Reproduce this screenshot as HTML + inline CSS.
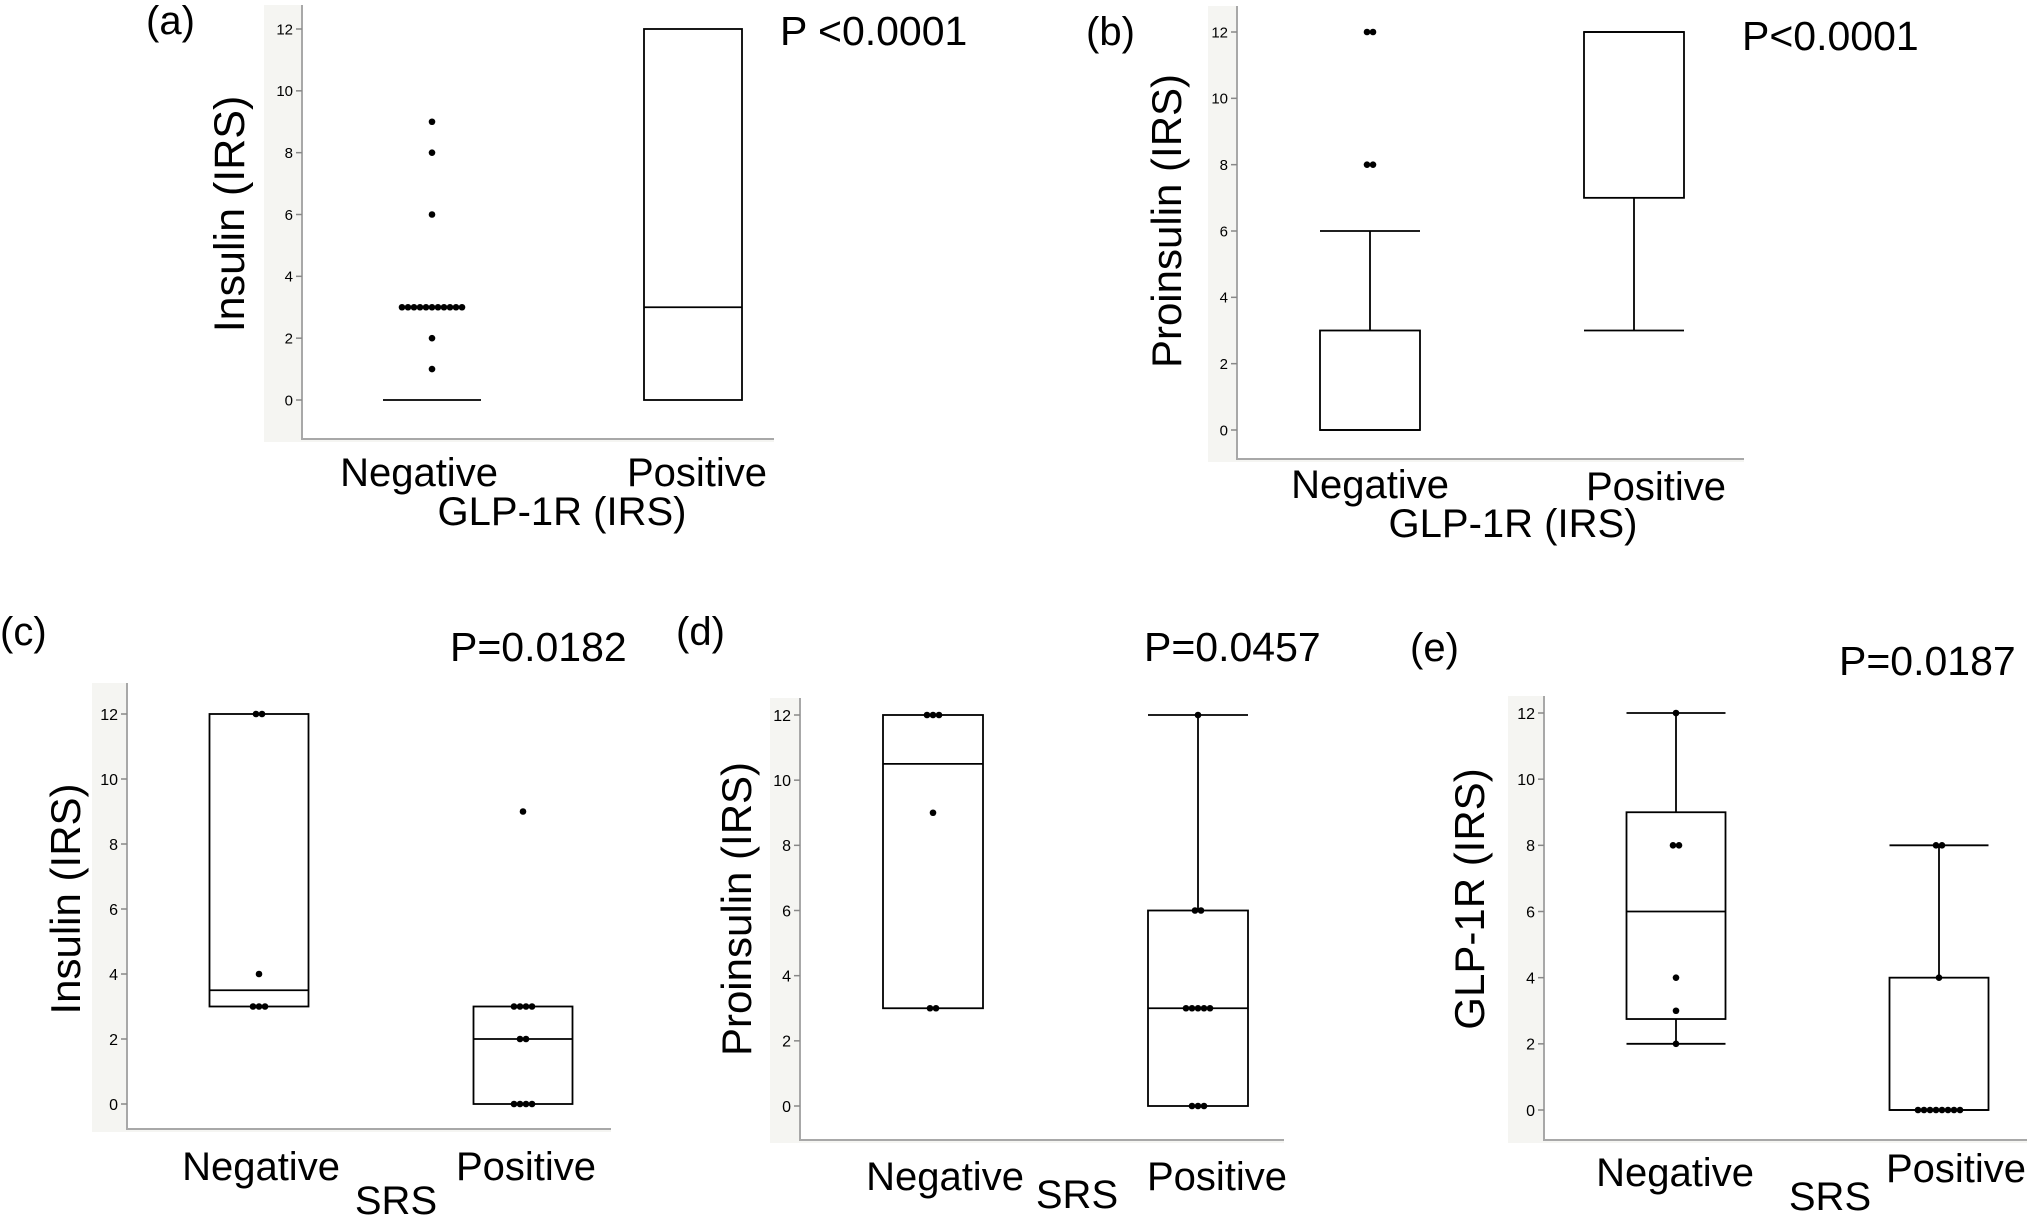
<!DOCTYPE html>
<html><head><meta charset="utf-8"><title>IRS box plots</title>
<style>html,body{margin:0;padding:0;background:#fff}svg{display:block}text{font-family:"Liberation Sans","Noto Sans CJK JP",sans-serif;fill:#000}</style>
</head><body>
<svg id="fig" width="2031" height="1217" viewBox="0 0 2031 1217" xmlns="http://www.w3.org/2000/svg">
<rect width="2031" height="1217" fill="#fff"/>
<g id="layer"></g>
<!-- static text -->
<text x="146" y="34" font-size="40">(a)</text>
<text x="780" y="45" font-size="41">P &lt;0.0001</text>
<text transform="translate(244,214) rotate(-90)" text-anchor="middle" font-size="43">Insulin (IRS)</text>
<text x="419" y="486" text-anchor="middle" font-size="40">Negative</text>
<text x="697" y="486" text-anchor="middle" font-size="40">Positive</text>
<text x="562" y="525" text-anchor="middle" font-size="40">GLP-1R (IRS)</text>

<text x="1086" y="45" font-size="40">(b)</text>
<text x="1742" y="50" font-size="41">P&lt;0.0001</text>
<text transform="translate(1181,221) rotate(-90)" text-anchor="middle" font-size="42">Proinsulin (IRS)</text>
<text x="1370" y="498" text-anchor="middle" font-size="40">Negative</text>
<text x="1656" y="500" text-anchor="middle" font-size="40">Positive</text>
<text x="1513" y="537" text-anchor="middle" font-size="40">GLP-1R (IRS)</text>

<text x="0" y="645" font-size="40">(c)</text>
<text x="450" y="661" font-size="41">P=0.0182</text>
<text transform="translate(80,899) rotate(-90)" text-anchor="middle" font-size="42">Insulin (IRS)</text>
<text x="261" y="1180" text-anchor="middle" font-size="40">Negative</text>
<text x="526" y="1180" text-anchor="middle" font-size="40">Positive</text>
<text x="396" y="1214" text-anchor="middle" font-size="40">SRS</text>

<text x="676" y="645" font-size="40">(d)</text>
<text x="1144" y="661" font-size="41">P=0.0457</text>
<text transform="translate(751,909) rotate(-90)" text-anchor="middle" font-size="42">Proinsulin (IRS)</text>
<text x="945" y="1190" text-anchor="middle" font-size="40">Negative</text>
<text x="1217" y="1190" text-anchor="middle" font-size="40">Positive</text>
<text x="1077" y="1208" text-anchor="middle" font-size="40">SRS</text>

<text x="1410" y="661" font-size="40">(e)</text>
<text x="1839" y="675" font-size="41">P=0.0187</text>
<text transform="translate(1484,899) rotate(-90)" text-anchor="middle" font-size="42">GLP-1R (IRS)</text>
<text x="1675" y="1186" text-anchor="middle" font-size="40">Negative</text>
<text x="1956" y="1182" text-anchor="middle" font-size="40">Positive</text>
<text x="1830" y="1210" text-anchor="middle" font-size="40">SRS</text>
</svg>
<script>
// ---- data ----
const yTicks = [0, 2, 4, 6, 8, 10, 12];
const tickLabels = ["0", "2", "4", "6", "8", "10", "12"];
// box stats: [q1, median, q3, whiskerLow, whiskerHigh] (null = no whisker)
const aNegBox = [0, 0, 0, null, null];
const aPosBox = [0, 3, 12, null, null];
const aNegDots = [9, 8, 6, 3, 3, 3, 3, 3, 3, 3, 3, 3, 3, 3, 2, 1];
const aPosDots = [];
const bNegBox = [0, 0, 3, null, 6];
const bPosBox = [7, 12, 12, 3, null];
const bNegDots = [12, 12, 8, 8];
const bPosDots = [];
const cNegBox = [3, 3.5, 12, null, null];
const cPosBox = [0, 2, 3, null, null];
const cNegDots = [12, 12, 4, 3, 3, 3];
const cPosDots = [9, 3, 3, 3, 3, 2, 2, 0, 0, 0, 0];
const dNegBox = [3, 10.5, 12, null, null];
const dPosBox = [0, 3, 6, null, 12];
const dNegDots = [12, 12, 12, 9, 3, 3];
const dPosDots = [12, 6, 6, 3, 3, 3, 3, 3, 0, 0, 0];
const eNegBox = [2.75, 6, 9, 2, 12];
const ePosBox = [0, 0, 4, null, 8];
const eNegDots = [12, 8, 8, 4, 3, 2];
const ePosDots = [8, 8, 4, 0, 0, 0, 0, 0, 0, 0, 0];

// ---- layout ----
const panels = [
  {id:"a", bgL:264, ax:302, right:774, bottom:439, top:5, y12:29, y0:400, negX:432, posX:693, bw:98, fs:15, nb:aNegBox, pb:aPosBox, nd:aNegDots, pd:aPosDots},
  {id:"b", bgL:1208, ax:1237, right:1744, bottom:459, top:6, y12:32, y0:430, negX:1370, posX:1634, bw:100, fs:15, nb:bNegBox, pb:bPosBox, nd:bNegDots, pd:bPosDots},
  {id:"c", bgL:92, ax:127, right:611, bottom:1129, top:683, y12:714, y0:1104, negX:259, posX:523, bw:99, fs:16, nb:cNegBox, pb:cPosBox, nd:cNegDots, pd:cPosDots},
  {id:"d", bgL:770, ax:800, right:1284, bottom:1140, top:698, y12:715, y0:1106, negX:933, posX:1198, bw:100, fs:16, nb:dNegBox, pb:dPosBox, nd:dNegDots, pd:dPosDots},
  {id:"e", bgL:1508, ax:1544, right:2027, bottom:1140, top:696, y12:713, y0:1110, negX:1676, posX:1939, bw:99, fs:16, nb:eNegBox, pb:ePosBox, nd:eNegDots, pd:ePosDots}
];
const NS = "http://www.w3.org/2000/svg";
const layer = document.getElementById("layer");
function mk(tag, attrs, parent) {
  const el = document.createElementNS(NS, tag);
  for (const k in attrs) el.setAttribute(k, attrs[k]);
  (parent || layer).appendChild(el);
  return el;
}
panels.forEach(p => {
  const g = mk("g", {});
  
  
  const y = v => p.y0 + (p.y12 - p.y0) * v / 12;
  const bg = mk("rect", {x:p.bgL, y:p.top, width:p.right - p.bgL, height:p.bottom - p.top + 3, fill:"#f5f5f2"}, g);
  
  
  const pa = mk("rect", {x:p.ax, y:p.top, width:p.right - p.ax, height:p.bottom - p.top, fill:"#fff"}, g);
  
  
  const yax = mk("line", {x1:p.ax, y1:p.top, x2:p.ax, y2:p.bottom, stroke:"#a8a8a8", "stroke-width":2}, g);
  
  
  const xax = mk("line", {x1:p.ax - 1, y1:p.bottom, x2:p.right, y2:p.bottom, stroke:"#a8a8a8", "stroke-width":2}, g);
  
  
  yTicks.forEach((t, i) => {
    const tk = mk("line", {x1:p.ax - 6, y1:y(t), x2:p.ax, y2:y(t), stroke:"#888", "stroke-width":1.5}, g);
    
    
    const tl = mk("text", {x:p.ax - 9, y:y(t) + p.fs * 0.36, "text-anchor":"end", "font-size":p.fs}, g);
    tl.textContent = tickLabels[i];
    
    
  });
  [[p.nb, p.nd, p.negX, "negative"], [p.pb, p.pd, p.posX, "positive"]].forEach(([box, dots, cx, nm]) => {
    const [q1, med, q3, wl, wh] = box;
    const x0 = cx - p.bw / 2, x1 = cx + p.bw / 2;
    const sw = 1.8;
    if (wh !== null) {
      const w = mk("line", {x1:cx, y1:y(q3), x2:cx, y2:y(wh), stroke:"#000", "stroke-width":sw}, g);
      
      
      const c = mk("line", {x1:x0, y1:y(wh), x2:x1, y2:y(wh), stroke:"#000", "stroke-width":sw}, g);
      
      
    }
    if (wl !== null) {
      const w = mk("line", {x1:cx, y1:y(q1), x2:cx, y2:y(wl), stroke:"#000", "stroke-width":sw}, g);
      
      
      const c = mk("line", {x1:x0, y1:y(wl), x2:x1, y2:y(wl), stroke:"#000", "stroke-width":sw}, g);
      
      
    }
    const r = mk("rect", {x:x0, y:y(q3), width:p.bw, height:Math.max(0, y(q1) - y(q3)), fill:"none", stroke:"#000", "stroke-width":sw}, g);
    
    
    const m = mk("line", {x1:x0, y1:y(med), x2:x1, y2:y(med), stroke:"#000", "stroke-width":sw}, g);
    
    
    const counts = {};
    dots.forEach(v => { counts[v] = (counts[v] || 0) + 1; });
    Object.keys(counts).forEach(k => {
      const v = parseFloat(k), n = counts[k];
      for (let i = 0; i < n; i++) {
        const dx = (i - (n - 1) / 2) * 6;
        const d = mk("circle", {cx:cx + dx, cy:y(v), r:3.3, fill:"#000"}, g);
        
        
      }
    });
  });
});
</script>
</body></html>
